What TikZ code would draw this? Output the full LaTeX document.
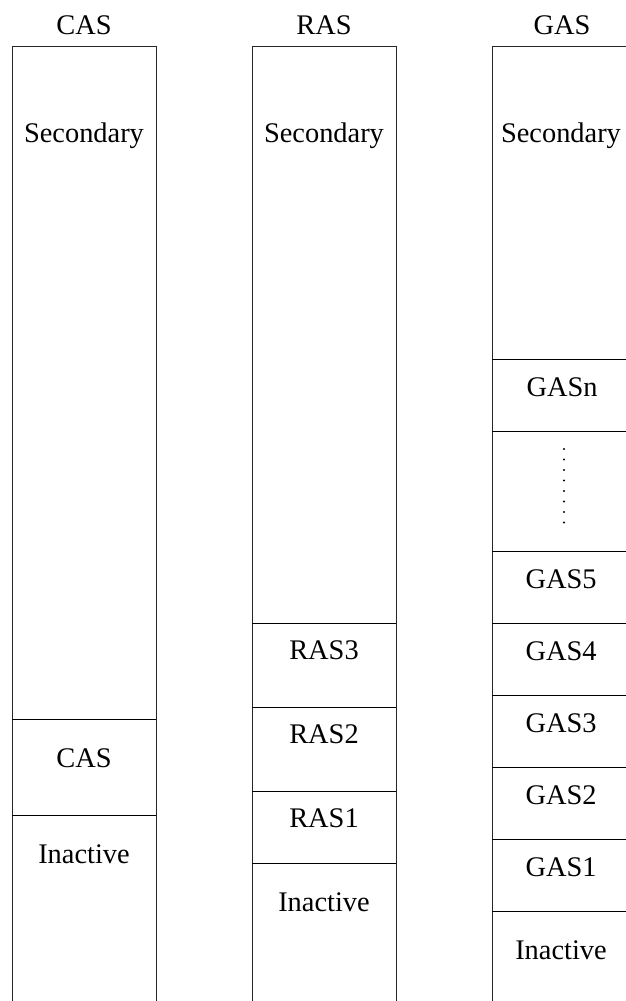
\documentclass[tikz,border=0pt]{standalone}
\usepackage{fontspec}
\setmainfont{Liberation Serif}
\begin{document}
\begin{tikzpicture}[x=1pt,y=-1pt,
    lbl/.style={anchor=base,inner sep=0pt,font=\fontsize{28.4}{30}\selectfont},
    rule/.style={line width=1pt,black},
    wall/.style={line width=0.9pt,black!85}]
  \useasboundingbox (0,0) rectangle (626,1001);

  % column outlines (open at the bottom)
  \draw[wall] (12,1001) -- (12,46.5) -- (156,46.5) -- (156,1001);
  \draw[wall] (252,1001) -- (252,46.5) -- (396,46.5) -- (396,1001);
  \draw[wall] (492,1001) -- (492,46.5) -- (626,46.5);

  % column headings
  \node[lbl] (hcas) at (84,34) {CAS};
  \node[lbl] (hras) at (324,34) {RAS};
  \node[lbl] (hgas) at (562,34) {GAS};

  % CAS column
  \node[lbl] (casSec) at (84,142) {Secondary};
  \draw[rule] (12,719) -- (156,719);
  \node[lbl] (casC) at (84,767) {CAS};
  \draw[rule] (12,815) -- (156,815);
  \node[lbl] (casIn) at (84,863) {Inactive};

  % RAS column
  \node[lbl] (rasSec) at (324,142) {Secondary};
  \foreach \y in {623,707,791,863} \draw[rule] (252,\y) -- (396,\y);
  \node[lbl] (ras3) at (324,659) {RAS3};
  \node[lbl] (ras2) at (324,743) {RAS2};
  \node[lbl] (ras1) at (324,827) {RAS1};
  \node[lbl] (rasIn) at (324,911) {Inactive};

  % GAS column
  \node[lbl] (gasSec) at (561,142) {Secondary};
  \foreach \y in {359,431,551,623,695,767,839,911} \draw[rule] (492,\y) -- (626,\y);
  \node[lbl] (gasN) at (562,396) {GASn};
  \foreach \k in {0,...,7} \fill (564,449+10.5*\k) circle (1.1);
  \node[lbl] (gas5) at (561,588) {GAS5};
  \node[lbl] (gas4) at (561,660) {GAS4};
  \node[lbl] (gas3) at (561,732) {GAS3};
  \node[lbl] (gas2) at (561,804) {GAS2};
  \node[lbl] (gas1) at (561,876) {GAS1};
  \node[lbl] (gasIn) at (561,959) {Inactive};
\end{tikzpicture}
\end{document}
